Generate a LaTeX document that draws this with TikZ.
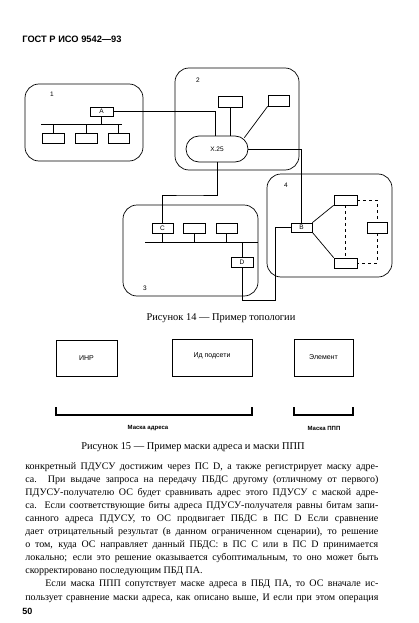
\documentclass[tikz,border=0pt]{standalone}
\usepackage{fontspec}
\setmainfont{Liberation Serif}
\setsansfont{Liberation Sans}
\usetikzlibrary{positioning,calc}

\begin{document}
\begin{tikzpicture}[x=1pt,y=-1pt,line width=0.7pt,
  netz/.style={draw,rounded corners=14pt,inner sep=0pt},
  unit/.style={draw,inner sep=0pt,minimum height=10pt,minimum width=22pt,font=\fontsize{6.5}{7}\sffamily},
  nr/.style={font=\fontsize{6.5}{7}\sffamily,inner sep=0pt},
  feld/.style={draw,inner sep=0pt,minimum height=37pt,font=\fontsize{7}{8}\sffamily},
  maske/.style={font=\bfseries\fontsize{6}{7}\sffamily,inner sep=0pt},
  capt/.style={font=\fontsize{10.4}{12}\selectfont,inner sep=0pt}]
\useasboundingbox (0,0) rectangle (419,623);

\node[anchor=base west,inner sep=0pt,font=\bfseries\fontsize{9.3}{10}\sffamily] (kopf) at (22,43) {ГОСТ Р ИСО 9542—93};

% Bild 14
\node[netz,minimum width=118pt,minimum height=77pt] (n1) at (84,122.5) {};
\node[netz,minimum width=124pt,minimum height=102pt] (n2) at (237,119) {};
\node[netz,minimum width=135pt,minimum height=91pt] (n3) at (190.5,250.5) {};
\node[netz,minimum width=125pt,minimum height=103pt] (n4) at (329.5,225.5) {};
\node[nr] (l1) at (52,94) {1};
\node[nr] (l2) at (198,80) {2};
\node[nr] (l3) at (145,288) {3};
\node[nr] (l4) at (286,185) {4};

\node[unit,minimum width=23pt,minimum height=9pt] (A) at (101.5,111.5) {A};
\node[unit] (a1) at (53,138) {};
\node[unit] (a2) at (86,138) {};
\node[unit,minimum width=21pt] (a3) at (118.5,138) {};
\coordinate (bus1) at (41,124);
\draw (bus1) -- (122,124);
\draw (A) -- (A |- bus1);
\foreach \b in {a1,a2,a3} \draw (\b) -- (\b |- bus1);

\node[unit,minimum width=24pt,minimum height=11pt] (b1) at (230,101.5) {};
\node[unit,minimum width=21pt,minimum height=11pt] (b2) at (278.5,100.5) {};
\node[draw,inner sep=0pt,minimum width=62pt,minimum height=26pt,rounded corners=13pt,font=\fontsize{6.5}{7}\sffamily] (x25) at (217,149) {X.25};
\draw (A.east) -| ([xshift=-2pt]x25.north);
\draw (b1) -- (b1 |- x25.north);
\draw (b2.south west) -- ([xshift=-4pt,yshift=-2pt]x25.north east);

\node[unit,minimum width=21pt] (C) at (162.5,228) {C};
\node[unit] (c2) at (194,228) {};
\node[unit,minimum width=21pt] (c3) at (226.5,228) {};
\node[unit] (D) at (242,262) {D};
\coordinate (bus3) at (145,242);
\draw (bus3) -- (258,242);
\foreach \b in {C,c2,c3} \draw (\b) -- (\b |- bus3);
\draw (D) -- (D |- bus3);
\coordinate (j23) at (190,195);
\draw (x25.south) |- (j23) -| (C.north);

\node[unit,minimum width=21pt,minimum height=9pt] (B) at (301.5,227.5) {B};
\node[unit,minimum width=23pt] (d1) at (345.5,200) {};
\node[unit,minimum width=23pt] (d2) at (345.5,263) {};
\node[unit,minimum width=20pt,minimum height=11pt] (d3) at (377,227.5) {};
\draw (x25.east) -| (B.north);
\coordinate (j34) at (275,300);
\draw (D.south) |- (j34) |- (B.west);
\draw (B.north east) -- (d1.south west);
\draw (B.south east) -- (d2.north west);
\draw[dashed] (d1.east) -| (d3.north);
\draw[dashed] (d3.south) |- (d2.east);
\draw[dashed] (d1) -- (d2);

\node[capt,anchor=base] (cap14) at (221,320) {Рисунок 14 — Пример топологии};

% Bild 15
\node[feld,minimum width=61pt,minimum height=36pt] (inr) at (86.5,358) {ИНР};
\node[feld,minimum width=80pt,text depth=4pt] (sub) at (212,357.5) {Ид подсети};
\node[feld,minimum width=59pt] (elem) at (323.5,357.5) {Элемент};
\draw[line width=1.2pt] (56,407) |- (252,415) -- (252,407);
\draw[line width=1.2pt] (294,407) |- (353,415) -- (353,407);
\node[maske] (madr) at (148,428) {Маска адреса};
\node[maske] (mppp) at (324,428) {Маска ППП};

\node[capt,anchor=base] (cap15) at (193,449) {Рисунок 15 — Пример маски адреса и маски ППП};

\node[anchor=base west,text width=353pt,align=justify,inner sep=0pt,
  font=\fontsize{10}{13.1}\selectfont] (txt) at (25,469) {\hyphenpenalty=10000\exhyphenpenalty=10000
конкретный ПДУСУ достижим через ПС D, а также регистрирует маску адре-\linebreak
са. При выдаче запроса на передачу ПБДС другому (отличному от первого)\linebreak
ПДУСУ-получателю ОС будет сравнивать адрес этого ПДУСУ с маской адре-\linebreak
са. Если соответствующие биты адреса ПДУСУ-получателя равны битам запи-\linebreak
санного адреса ПДУСУ, то ОС продвигает ПБДС в ПС D Если сравнение\linebreak
дает отрицательный результат (в данном ограниченном сценарии), то решение\linebreak
о том, куда ОС направляет данный ПБДС: в ПС C или в ПС D принимается\linebreak
локально; если это решение оказывается субоптимальным, то оно может быть\linebreak
скорректировано последующим ПБД ПА.\par
\hspace*{20pt}Если маска ППП сопутствует маске адреса в ПБД ПА, то ОС вначале ис-\linebreak
пользует сравнение маски адреса, как описано выше, И если при этом операция\parfillskip=0pt\par};

\node[anchor=base west,inner sep=0pt,font=\bfseries\fontsize{9}{10}\sffamily] (seite) at (22,614) {50};
\end{tikzpicture}
\end{document}
